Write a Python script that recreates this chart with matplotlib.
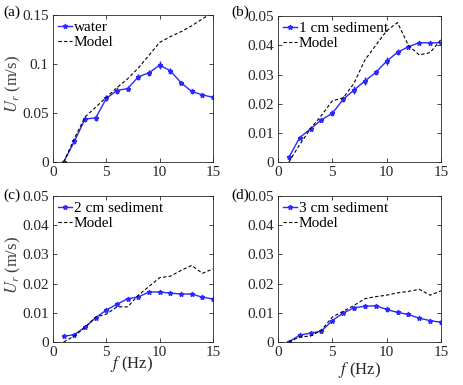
import numpy as np
import matplotlib
matplotlib.use('Agg')
from matplotlib import pyplot as plt

plt.rcParams['font.family'] = ['Liberation Serif', 'DejaVu Serif']
plt.rcParams['mathtext.fontset'] = 'stix'

f = np.arange(1, 16)

# measured values
water = [0, 0.021, 0.044, 0.045, 0.065, 0.073, 0.075, 0.087, 0.091, 0.099, 0.093, 0.081, 0.072, 0.0686, 0.066]
water_err = [0.001, 0.003, 0.003, 0.003, 0.003, 0.004, 0.003, 0.003, 0.003, 0.004, 0.003, 0.001, 0.003, 0.002, 0.001]
sed1 = [0.0016, 0.0084, 0.0114, 0.0145, 0.0167, 0.0215, 0.0247, 0.0278, 0.0307, 0.0346, 0.0376, 0.0395, 0.0409, 0.0409, 0.0409]
sed1_err = [0.0005, 0.0005, 0.0006, 0.0006, 0.001, 0.001, 0.0015, 0.0013, 0.001, 0.0013, 0.001, 0.0005, 0.0006, 0.0005, 0.0006]
sed2 = [0.0019, 0.0025, 0.005, 0.0083, 0.0109, 0.0129, 0.0148, 0.0154, 0.0171, 0.0171, 0.0167, 0.0164, 0.0164, 0.0153, 0.0147]
sed2_err = [0.0003, 0.0004, 0.0004, 0.0005, 0.0005, 0.0005, 0.0005, 0.0005, 0.0004, 0.0004, 0.0004, 0.0004, 0.0004, 0.0006, 0.0005]
sed3 = [0, 0.0023, 0.003, 0.0037, 0.0073, 0.0099, 0.0117, 0.0122, 0.0124, 0.0111, 0.0101, 0.0094, 0.0081, 0.0073, 0.0067]
sed3_err = [0.0003, 0.0005, 0.0005, 0.0005, 0.0006, 0.0005, 0.0007, 0.0005, 0.0006, 0.0007, 0.0006, 0.0004, 0.0004, 0.0004, 0.0004]

# model curves
model_w = [0, 0.024, 0.046, 0.056, 0.066, 0.076, 0.085, 0.096, 0.109, 0.122, 0.128, 0.133, 0.139, 0.146, 0.153]
model_1 = [0, 0.006, 0.0115, 0.016, 0.021, 0.022, 0.027, 0.035, 0.040, 0.045, 0.0478, 0.040, 0.0367, 0.0375, 0.042]
model_2 = [0, 0.002, 0.005, 0.0085, 0.0095, 0.012, 0.012, 0.016, 0.019, 0.022, 0.0225, 0.0245, 0.0262, 0.0235, 0.025]
model_3 = [0, 0.0017, 0.002, 0.004, 0.0085, 0.0105, 0.0125, 0.0148, 0.0155, 0.016, 0.0168, 0.0173, 0.018, 0.016, 0.0175]

names = ['water', '1 cm sediment', '2 cm sediment', '3 cm sediment']
meas = [water, sed1, sed2, sed3]
errs = [water_err, sed1_err, sed2_err, sed3_err]
models = [model_w, model_1, model_2, model_3]
ymax = [0.15, 0.05, 0.05, 0.05]
letters = ['(a)', '(b)', '(c)', '(d)']

fig = plt.figure(figsize=(4.63, 3.85), dpi=100)
pos = [[0.1145, 0.579, 0.3456, 0.382],
       [0.6004, 0.579, 0.352, 0.379],
       [0.1145, 0.112, 0.3456, 0.379],
       [0.6004, 0.112, 0.352, 0.379]]
lab_xy = [(0.008, 0.968), (0.499, 0.968), (0.008, 0.493), (0.499, 0.493)]

blue = '#2a2aff'
for i in range(4):
    ax = fig.add_axes(pos[i])
    ax.errorbar(f, meas[i], yerr=errs[i], fmt='none', ecolor=blue, elinewidth=1, capsize=0)
    h1, = ax.plot(f, meas[i], color=blue, marker='*', markersize=3.5, lw=1, label=names[i])
    h2, = ax.plot(f, models[i], '--', color='k', lw=0.8, dashes=(3, 2), label='Model')
    ax.set_xlim(0, 15)
    ax.set_ylim(0, ymax[i])
    ax.set_xticks([0, 5, 10, 15])
    if i == 0:
        ax.set_yticks([0, 0.05, 0.1, 0.15])
        ax.set_yticklabels(['0', '0.05', '0.1', '0.15'])
    else:
        ax.set_yticks([0, 0.01, 0.02, 0.03, 0.04, 0.05])
        ax.set_yticklabels(['0', '0.01', '0.02', '0.03', '0.04', '0.05'])
    ax.tick_params(direction='in', length=3, width=0.6, top=True, right=True,
                   labelsize=11, pad=3, colors='#262626')
    for s in ax.spines.values():
        s.set_linewidth(0.6)
        s.set_color('#262626')
    if i in (0, 2):
        ax.set_ylabel('$U_r$ (m/s)', fontsize=12, color='#404040')
        ax.yaxis.set_label_coords(-0.185, 0.53)
    if i == 2:
        ax.set_xlabel('$f$ (Hz)', fontsize=12, color='#262626')
        ax.xaxis.set_label_coords(0.49, -0.08)
    if i == 3:
        ax.set_xlabel('$f$ (Hz)', fontsize=12, color='#262626', labelpad=1)
    ax.legend(handles=[h1, h2], loc='upper left', frameon=False, fontsize=11,
              handlelength=0.9, handletextpad=0.1, borderaxespad=0.15,
              borderpad=0.2, labelspacing=0.1)
    fig.text(lab_xy[i][0], lab_xy[i][1], letters[i], fontsize=11, va='center')

fig.savefig('out.png', dpi=100)
